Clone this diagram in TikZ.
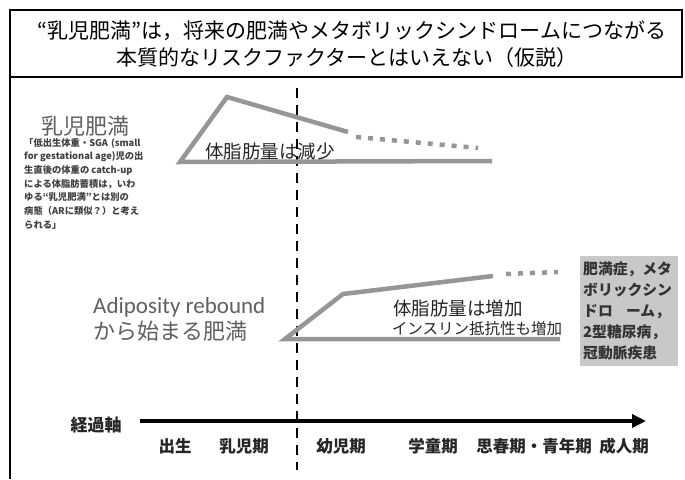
\documentclass[tikz,border=0pt]{standalone}
\usepackage{fontspec}
\setmainfont{Noto Sans CJK JP}
\newfontfamily\latinfont{Carlito}
\usetikzlibrary{arrows.meta}
\definecolor{curve}{RGB}{150,150,150}
\definecolor{boxfill}{RGB}{200,200,200}
\definecolor{softtext}{RGB}{95,95,95}
\tikzset{
  curveline/.style={draw=curve, line width=4.5pt, line join=miter},
  dotline/.style={draw=curve, line width=4.5pt, dash pattern=on 5pt off 7pt},
  txt/.style={inner sep=0pt, anchor=center},
}
\begin{document}
\begin{tikzpicture}[x=1pt,y=-1pt]
\useasboundingbox (0,0) rectangle (685,479);
% title frame
\draw[line width=1.6pt] (10,10) rectangle (682,77);
\draw[line width=1.6pt] (10,77) -- (10,479);
\node[txt, font=\fontsize{21}{23}\selectfont] (t1) at (352,31) {“乳児肥満”は，将来の肥満やメタボリックシンドロームにつながる};
\node[txt, font=\fontsize{21}{23}\selectfont] (t2) at (347,58) {本質的なリスクファクターとはいえない（仮説）};
% dashed divider
\coordinate (dv1) at (297,88);
\coordinate (dv2) at (297,470);
\draw[line width=2.4pt, dash pattern=on 10pt off 7pt] (dv1) -- (dv2);
% upper shape
\coordinate (ua) at (180,162);
\coordinate (ub) at (227,97);
\coordinate (uc) at (348,132);
\coordinate (ud) at (356,137);
\coordinate (ue) at (478,148);
\coordinate (uf) at (492,161);
\draw[curveline] (uc) -- (ub) -- (ua) -- (uf);
\draw[dotline] (ud) -- (ue);
\node[txt, font=\fontsize{18.5}{20}\selectfont, text=black!85] (dec) at (270,151) {体脂肪量は減少};
% lower shape
\coordinate (la) at (285,339);
\coordinate (lb) at (343,294);
\coordinate (lc) at (493,276);
\coordinate (ld) at (506,274);
\coordinate (le) at (558,272);
\coordinate (lf) at (560,339);
\draw[curveline] (lc) -- (lb) -- (la) -- (lf);
\draw[dotline] (ld) -- (le);
\node[txt, font=\fontsize{18.5}{20}\selectfont, text=black!85] (inc1) at (458,308) {体脂肪量は増加};
\node[txt, font=\fontsize{15.5}{17}\selectfont, text=black!85] (inc2) at (477,329) {インスリン抵抗性も増加};
% left labels
\node[txt, font=\fontsize{22}{24}\selectfont, text=softtext] (infant) at (85,126) {乳児肥満};
\node[txt, anchor=north west, align=left, font=\fontsize{9.3}{13.7}\selectfont\bfseries, text=black!75] (note) at (24,138)
{「低出生体重・SGA\hspace{3pt}(small\\for gestational age)児の出\\生直後の体重の catch-up\\による体脂肪蓄積は，いわ\\ゆる“乳児肥満”とは別の\\病態（ARに類似？）と考え\\られる」};
\node[txt, anchor=west, font=\latinfont\fontsize{23}{25}\selectfont, text=softtext] (ar1) at (93,307) {Adiposity rebound};
\node[txt, anchor=west, font=\fontsize{22}{24}\selectfont, text=softtext] (ar2) at (93,331) {から始まる肥満};
% gray box
\node[fill=boxfill, minimum width=98pt, minimum height=110pt, inner sep=0pt] (box) at (629,311) {};
\node[txt, anchor=north west, align=left, font=\fontsize{14.8}{21}\selectfont\bfseries, text=black!80] (boxtxt) at (583,262)
{肥満症，メタ\\ボリックシン\\ドロ\hspace{0.9em}ーム，\\2型糖尿病，\\冠動脈疾患};
% time axis
\coordinate (ax1) at (140,421);
\coordinate (ax2) at (646,421);
\draw[line width=4.5pt, -{Triangle[length=14pt,width=13pt]}] (ax1) -- (ax2);
\node[txt, font=\fontsize{17}{19}\selectfont\bfseries, text=black!85] (axl) at (96,425) {経過軸};
\tikzset{tl/.style={txt, font=\fontsize{16.5}{18}\selectfont\bfseries, text=black!85}}
\node[tl] (p1) at (175,446) {出生};
\node[tl] (p2) at (244,446) {乳児期};
\node[tl] (p3) at (341,446) {幼児期};
\node[tl] (p4) at (433,446) {学童期};
\node[tl] (p5) at (534,446) {思春期・青年期};
\node[tl] (p6) at (624,446) {成人期};
\end{tikzpicture}
\end{document}
